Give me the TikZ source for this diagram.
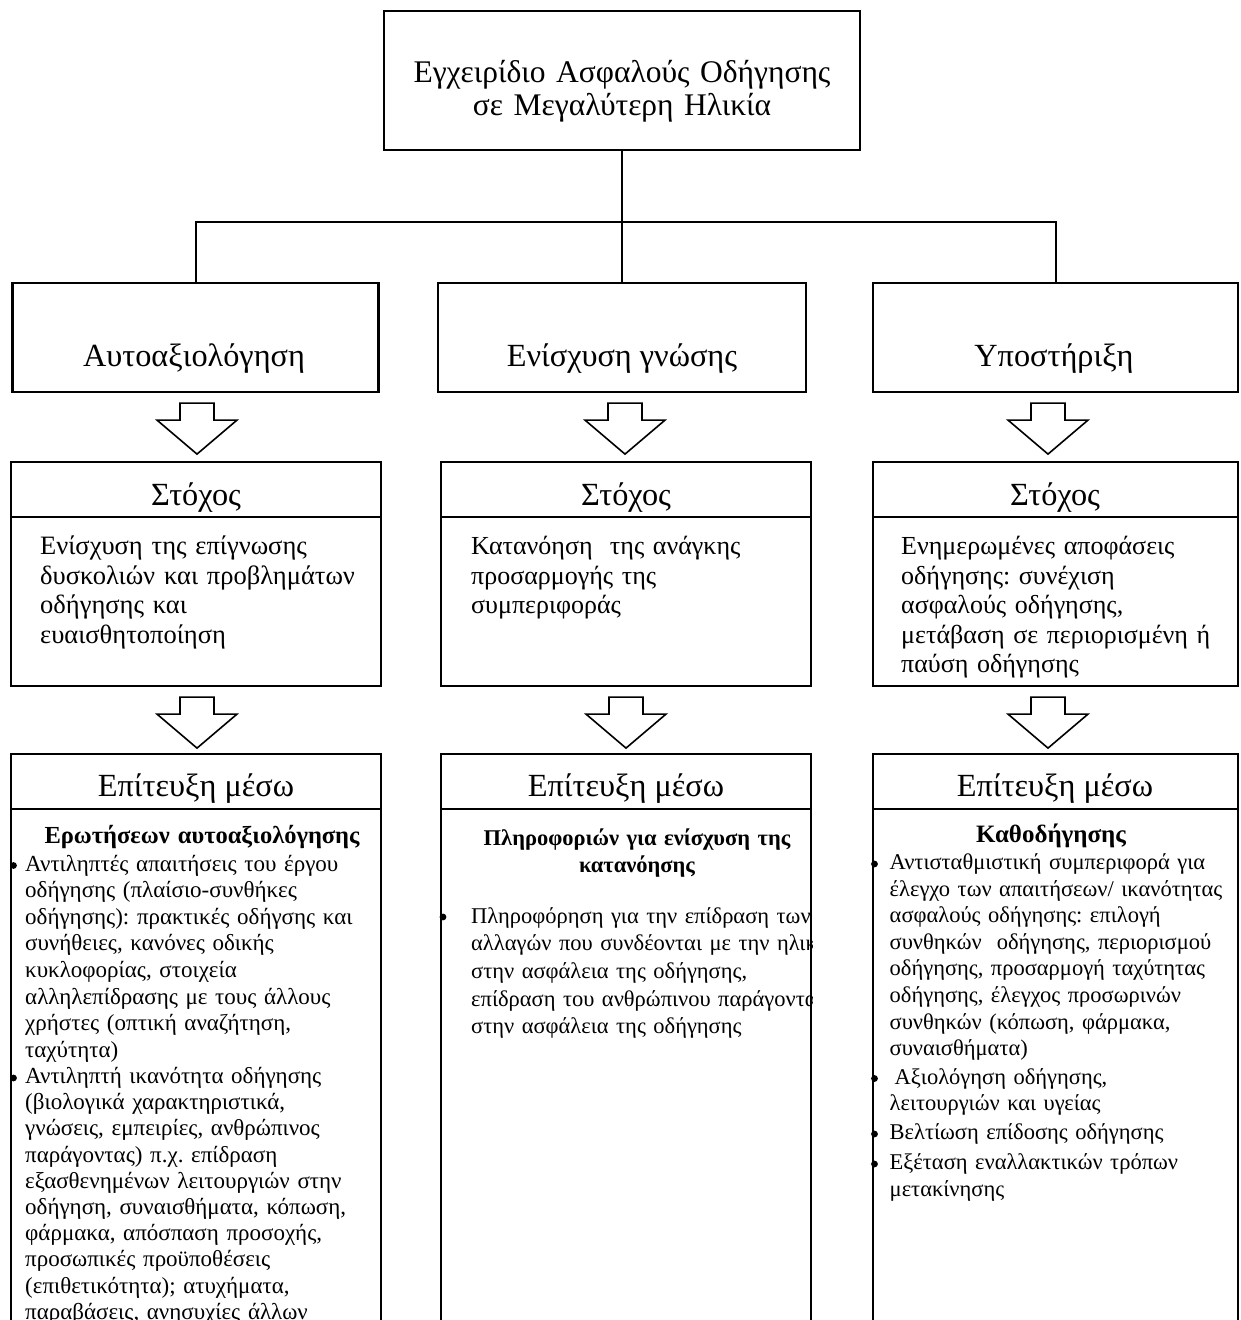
\documentclass[tikz,border=0pt]{standalone}
\usepackage{fontspec}
\setmainfont{Liberation Serif}
\usetikzlibrary{calc}
\begin{document}
\frenchspacing
\begin{tikzpicture}[x=1pt,y=-1pt,
  box/.style={draw,line width=2.2pt,inner sep=0pt},
  divline/.style={line width=2.2pt},
  link/.style={line width=2pt},
  hollow/.style={draw,line width=1.6pt,line join=miter,fill=white},
  ttl/.style={font=\fontsize{31.5}{33}\selectfont,align=center,text width=470pt,anchor=base,inner sep=0pt},
  lvl/.style={font=\fontsize{32.3}{35}\selectfont,anchor=base,inner sep=0pt},
  goal/.style={font=\fontsize{26}{29.5}\selectfont,align=left,text width=360pt,anchor=base west,inner sep=0pt},
  bhead/.style={font=\fontsize{22.5}{27.5}\selectfont\bfseries,align=center,text width=360pt,anchor=base,inner sep=0pt},
  item/.style={font=\fontsize{22.5}{26.6}\selectfont,align=left,text width=420pt,anchor=base west,inner sep=0pt},
  dot/.style={fill=black}]
\useasboundingbox (0,0) rectangle (1240,1320);
\clip (0,0) rectangle (1240,1320);

% top box
\node[box,minimum width=476pt,minimum height=139pt] (top) at (622,80.5) {};
\node[ttl] (title) at (622,82) {Εγχειρίδιο Ασφαλούς Οδήγησης\\σε Μεγαλύτερη Ηλικία};

% level 1 boxes
\node[box,minimum width=366pt,minimum height=109pt] (bA) at (195.5,337.5) {};
\node[box,minimum width=368pt,minimum height=109pt] (bB) at (622,337.5) {};
\node[box,minimum width=365pt,minimum height=109pt] (bC) at (1055.5,337.5) {};
\node[lvl] (tA) at (194,366) {Αυτοαξιολόγηση};
\node[lvl] (tB) at (622,366) {Ενίσχυση γνώσης};
\node[lvl] (tC) at (1054,366) {Υποστήριξη};

% connectors
\coordinate (j) at (622,222);
\draw[link] (top.south) -- (j);
\draw[link] (bA.north) |- (j) -| (bC.north);
\draw[link] (j) -- (bB.north);

% goal boxes
\node[box,minimum width=370pt,minimum height=224pt] (gA) at (196,574) {};
\node[box,minimum width=370pt,minimum height=224pt] (gB) at (626,574) {};
\node[box,minimum width=365pt,minimum height=224pt] (gC) at (1055.5,574) {};
\foreach \g in {gA,gB,gC}{
  \draw[divline] ($(\g.north west)+(0,56)$) -- ($(\g.north east)+(0,56)$);
}
\node[lvl] (hA) at (196,505) {Στόχος};
\node[lvl] (hB) at (626,505) {Στόχος};
\node[lvl] (hC) at (1055,505) {Στόχος};
\node[goal,font=\fontsize{26.5}{29.5}\selectfont] (sA) at (40,554.5) {Ενίσχυση της επίγνωσης\\δυσκολιών και προβλημάτων\\οδήγησης και\\ευαισθητοποίηση};
\node[goal] (sB) at (471,554.5) {Κατανόηση~ της ανάγκης\\προσαρμογής της\\συμπεριφοράς};
\node[goal] (sC) at (901,554.5) {Ενημερωμένες αποφάσεις\\οδήγησης: συνέχιση\\ασφαλούς οδήγησης,\\μετάβαση σε περιορισμένη ή\\παύση οδήγησης};

% means boxes
\node[box,minimum width=370pt,minimum height=576pt] (mA) at (196,1042) {};
\node[box,minimum width=370pt,minimum height=576pt] (mB) at (626,1042) {};
\node[box,minimum width=365pt,minimum height=576pt] (mC) at (1055.5,1042) {};
\foreach \g in {mA,mB,mC}{
  \draw[divline] ($(\g.north west)+(0,56)$) -- ($(\g.north east)+(0,56)$);
}
\node[lvl] (eA) at (196,796) {Επίτευξη μέσω};
\node[lvl] (eB) at (626,796) {Επίτευξη μέσω};
\node[lvl] (eC) at (1055,796) {Επίτευξη μέσω};

% hollow arrows
\foreach \src/\dx in {bA/1.5,bB/3,bC/-7.5,gA/1,gB/0,gC/-7.5}{
  \begin{scope}[shift={($(\src.south)+(\dx,10)$)}]
    \draw[hollow] (-17,0) -- (-17,17) -- (-40,17) -- (0,51) -- (40,17) -- (17,17) -- (17,0) -- cycle;
  \end{scope}
}

% left column contents
\node[bhead,font=\fontsize{24.5}{27.5}\selectfont\bfseries] (qA) at (202,843.5) {Ερωτήσεων αυτοαξιολόγησης};
\node[item,font=\fontsize{23}{26.6}\selectfont] (iA1) at (25,871) {Αντιληπτές απαιτήσεις του έργου\\οδήγησης (πλαίσιο-συνθήκες\\οδήγησης): πρακτικές οδήγσης και\\συνήθειες, κανόνες οδικής\\κυκλοφορίας, στοιχεία\\αλληλεπίδρασης με τους άλλους\\χρήστες (οπτική αναζήτηση,\\ταχύτητα)};
\node[item,font=\fontsize{23}{26.2}\selectfont] (iA2) at (25,1083.5) {Αντιληπτή ικανότητα οδήγησης\\(βιολογικά χαρακτηριστικά,\\γνώσεις, εμπειρίες, ανθρώπινος\\παράγοντας) π.χ. επίδραση\\εξασθενημένων λειτουργιών στην\\οδήγηση, συναισθήματα, κόπωση,\\φάρμακα, απόσπαση προσοχής,\\προσωπικές προϋποθέσεις\\(επιθετικότητα); ατυχήματα,\\παραβάσεις, ανησυχίες άλλων};
\fill[dot] (13.5,865.5) circle[radius=3.4];
\fill[dot] (13.5,1078) circle[radius=3.4];

% middle column contents
\node[bhead] (qB) at (637,845) {Πληροφοριών για ενίσχυση της\\κατανόησης};
\begin{scope}
  \clip (mB.north west) rectangle (mB.south east);
  \node[item,font=\fontsize{22.5}{27.7}\selectfont] (iB1) at (471,923) {Πληροφόρηση για την επίδραση των\\αλλαγών που συνδέονται με την ηλικία\\στην ασφάλεια της οδήγησης,\\επίδραση του ανθρώπινου παράγοντα\\στην ασφάλεια της οδήγησης};
\end{scope}
\fill[dot] (443,917) circle[radius=3.4];

% right column contents
\node[bhead,font=\fontsize{25}{27.5}\selectfont\bfseries] (qC) at (1051,842) {Καθοδήγησης};
\node[item] (iC1) at (889.5,869.5) {Αντισταθμιστική συμπεριφορά για\\έλεγχο των απαιτήσεων/ ικανότητας\\ασφαλούς οδήγησης: επιλογή\\συνθηκών~ οδήγησης, περιορισμού\\οδήγησης, προσαρμογή ταχύτητας\\οδήγησης, έλεγχος προσωρινών\\συνθηκών (κόπωση, φάρμακα,\\συναισθήματα)};
\node[item] (iC2) at (889.5,1084) {\hspace{5pt}Αξιολόγηση οδήγησης,\\λειτουργιών και υγείας};
\node[item] (iC3) at (889.5,1139.5) {Βελτίωση επίδοσης οδήγησης};
\node[item] (iC4) at (889.5,1169.5) {Εξέταση εναλλακτικών τρόπων\\μετακίνησης};
\fill[dot] (874.5,864) circle[radius=3.4];
\fill[dot] (874.5,1078.5) circle[radius=3.4];
\fill[dot] (874.5,1134) circle[radius=3.4];
\fill[dot] (874.5,1164) circle[radius=3.4];
\end{tikzpicture}
\end{document}
